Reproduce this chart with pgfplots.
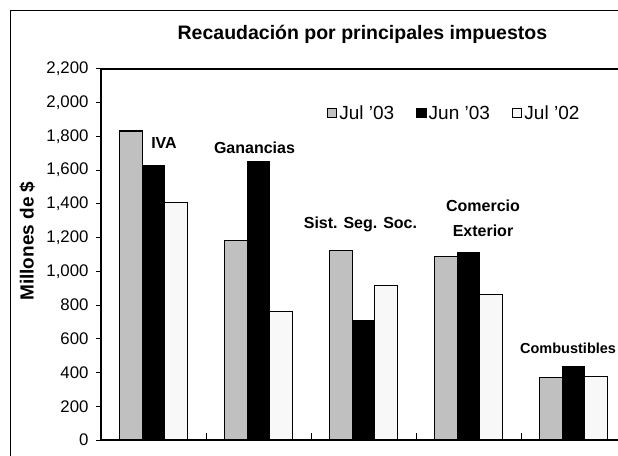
\documentclass[border=0pt]{standalone}
\usepackage{fontspec}
\setmainfont{Liberation Sans}
\usepackage{pgfplots}
\pgfplotsset{compat=1.18}
\definecolor{barGray}{RGB}{192,192,192}
\definecolor{barWhite}{RGB}{248,248,248}
\pgfplotsset{
  barS/.style={fill=#1, draw=black, line width=1.2pt},
}

\begin{document}
\begin{tikzpicture}
\useasboundingbox (0,0) rectangle (618pt,455pt);
\clip (0,0) rectangle (618pt,455pt);
% chart frame (only left and top visible)
\draw[line width=1pt] (10pt,-5pt) -- (10pt,444pt) -- (680pt,444pt);
\begin{axis}[
    at={(101pt,15pt)}, anchor=south west,
    scale only axis, width=555pt, height=371pt,
    ybar=0pt, bar width=22.5pt,
    xmin=0.5, xmax=5.7857, ymin=0, ymax=2200,
    ytick={0,200,...,2200},
    xtick=\empty,
    extra x ticks={0.5,1.5,2.5,3.5,4.5},
    extra x tick labels={},
    extra x tick style={tick align=inside, major tick length=7pt},
    tick pos=left, tick align=outside, major tick length=5pt,
    axis line style={line width=1.2pt}, tick style={line width=1pt, black},
    /pgf/number format/.cd, 1000 sep={,}, assume math mode=true, /pgfplots/.cd,
    yticklabel style={font=\fontsize{16.8}{18}\selectfont, xshift=-4pt},
    title={Recaudación por principales impuestos},
    title style={font=\bfseries\fontsize{19.5}{22}\selectfont,
                 at={(axis description cs:0.471,1.062)}, anchor=base},
    ylabel={Millones de \$},
    ylabel style={font=\bfseries\fontsize{19}{21}\selectfont,
                  at={(axis description cs:-0.133,0.536)}, anchor=center},
    legend style={draw=none, fill=none, at={(axis description cs:0.4065,0.881)},
                  anchor=west, legend columns=3, inner sep=0pt,
                  font=\fontsize{19}{21}\selectfont,
                  nodes={inner sep=2pt},
                  /tikz/every even column/.append style={column sep=20pt}},
    legend cell align=left,
    legend image code/.code={\draw[#1, line width=1pt] (0pt,-4.75pt) rectangle (9.5pt,4.75pt);},
]
  % Jul '03
  \addplot[barS=barGray] coordinates {(1,1832) (2,1181) (3,1122) (4,1088) (5,372)};
  % Jun '03
  \addplot[barS=black] coordinates {(1,1628) (2,1648) (3,710) (4,1110) (5,435)};
  % Jul '02
  \addplot[barS=barWhite] coordinates {(1,1410) (2,761) (3,914) (4,865) (5,378)};
  \legend{Jul '03, Jun '03, Jul '02}

  \begin{scope}[every node/.style={font=\bfseries\fontsize{16}{25}\selectfont, inner sep=0pt}]
    \node at (axis cs:1.1,1761) {IVA};
    \node at (axis cs:1.962,1732) {Ganancias};
    \node at (axis cs:2.971,1281) {Sist. Seg. Soc.};
    \node[align=center] at (axis cs:4.138,1313) {Comercio\\Exterior};
    \node[anchor=west, font=\bfseries\fontsize{14.5}{16}\selectfont] at (axis cs:4.49,546) {Combustibles};
  \end{scope}
\end{axis}
\end{tikzpicture}
\end{document}
